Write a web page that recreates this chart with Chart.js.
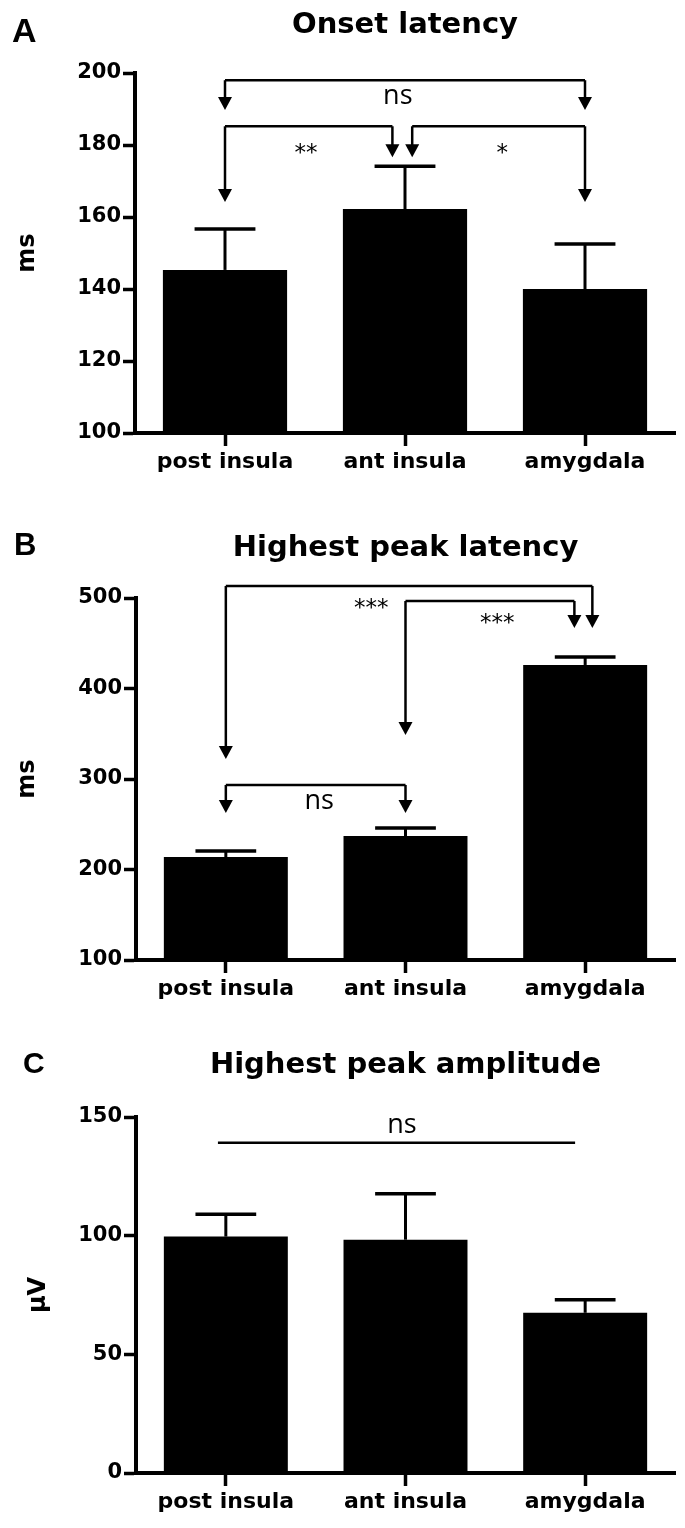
<!DOCTYPE html>
<html>
<head>
<meta charset="utf-8">
<script src="https://cdn.jsdelivr.net/npm/chart.js@4.4.0/dist/chart.umd.min.js"></script>
<style>
  html, body { margin: 0; padding: 0; background: #fff; }
  canvas { display: block; }
</style>
</head>
<body>
<canvas id="chartA" width="685" height="490"></canvas>
<canvas id="chartB" width="685" height="520"></canvas>
<canvas id="chartC" width="685" height="518"></canvas>
<script>
const categories = ['post insula', 'ant insula', 'amygdala'];

// A - onset latency (ms)
const onsetMean = [145.3, 162.2, 140.0];
const onsetSem = [11.4, 11.9, 12.5];
const onsetTicks = [100, 120, 140, 160, 180, 200];
// brackets: [from, to, line y, arrow tip at from, arrow tip at to] (null = no arrow)
const onsetBrackets = [
  [0, 2, 198, 189.7, 189.7],
  [0, 0.93, 185.2, 164.2, 176.6],
  [1.04, 2, 185.2, 176.6, 164.2]
];
const onsetMarks = [['ns', 0.96, 193.3], ['**', 0.45, 179.4], ['*', 1.54, 179.4]];

// B - highest peak latency (ms)
const peakLatMean = [213.8, 237.0, 426.0];
const peakLatSem = [6.6, 8.9, 8.8];
const peakLatTicks = [100, 200, 300, 400, 500];
const peakLatBrackets = [
  [0, 2.04, 513.3, 322.1, 466.9],
  [1, 1.94, 496.7, 348.6, 466.9],
  [0, 1, 293.4, 262.4, 262.4]
];
const peakLatMarks = [['***', 0.81, 495.6], ['***', 1.51, 479.0], ['ns', 0.52, 274.6]];

// C - highest peak amplitude (µV)
const ampMean = [99.6, 98.3, 67.5];
const ampSem = [9.4, 19.4, 5.5];
const ampTicks = [0, 50, 100, 150];
const ampBrackets = [
  [-0.044, 1.944, 139.1, null, null]
];
const ampMarks = [['ns', 0.98, 146.2]];

const FONT = "'DejaVu Sans', 'Liberation Sans', sans-serif";

function sigPlugin(cfg) {
  return {
    id: 'sig' + cfg.letter,
    afterDatasetsDraw(chart) {
      const ctx = chart.ctx;
      const xs = chart.scales.x, ys = chart.scales.y;
      const meta = chart.getDatasetMeta(0);
      ctx.save();
      ctx.strokeStyle = '#000';
      ctx.fillStyle = '#000';

      // error bars (upper only)
      meta.data.forEach((bar, i) => {
        const top = ys.getPixelForValue(cfg.mean[i] + cfg.sem[i]);
        const half = bar.width * 0.245;
        ctx.lineWidth = 3;
        ctx.beginPath(); ctx.moveTo(bar.x, bar.y); ctx.lineTo(bar.x, top); ctx.stroke();
        ctx.lineWidth = 3.5;
        ctx.beginPath(); ctx.moveTo(bar.x - half, top); ctx.lineTo(bar.x + half, top); ctx.stroke();
      });

      // brackets with arrows
      const head = 13, hw = 7;
      function arrow(px, lineY, tipVal) {
        if (tipVal === null) return;
        const tip = ys.getPixelForValue(tipVal);
        ctx.beginPath(); ctx.moveTo(px, lineY); ctx.lineTo(px, tip - head + 1); ctx.stroke();
        ctx.beginPath();
        ctx.moveTo(px - hw, tip - head); ctx.lineTo(px + hw, tip - head); ctx.lineTo(px, tip);
        ctx.closePath(); ctx.fill();
      }
      ctx.lineWidth = 2.5;
      cfg.brackets.forEach(b => {
        const x1 = xs.getPixelForValue(b[0]);
        const x2 = xs.getPixelForValue(b[1]);
        const ly = ys.getPixelForValue(b[2]);
        ctx.beginPath(); ctx.moveTo(x1, ly); ctx.lineTo(x2, ly); ctx.stroke();
        arrow(x1, ly, b[3]);
        arrow(x2, ly, b[4]);
      });

      // significance labels
      ctx.textAlign = 'center';
      ctx.textBaseline = 'alphabetic';
      cfg.marks.forEach(m => {
        const px = xs.getPixelForValue(m[1]);
        const py = ys.getPixelForValue(m[2]);
        if (m[0].indexOf('*') >= 0) {
          ctx.font = "23px 'DejaVu Sans'";
          ctx.fillText(m[0], px, py + 23 * 0.55);
        } else {
          ctx.font = "27px 'Open Sans'";
          ctx.fillText(m[0], px, py + 27 * 0.27);
        }
      });
      ctx.restore();
    },
    afterDraw(chart) {
      const ctx = chart.ctx;
      const area = chart.chartArea;
      ctx.save();
      ctx.fillStyle = '#000';
      ctx.textBaseline = 'alphabetic';
      ctx.textAlign = 'left';
      ctx.font = "bold " + cfg.letterSize + "px 'Liberation Sans'";
      ctx.fillText(cfg.letter, cfg.letterX, cfg.letterY);
      ctx.textAlign = 'center';
      ctx.font = "bold 29px " + FONT;
      ctx.fillText(cfg.title, (area.left + area.right) / 2, cfg.titleY);
      ctx.restore();
    }
  };
}

function makePanel(id, cfg) {
  return new Chart(document.getElementById(id), {
    type: 'bar',
    data: {
      labels: categories,
      datasets: [{
        data: cfg.mean,
        backgroundColor: '#000',
        borderWidth: 0,
        barPercentage: 0.69,
        categoryPercentage: 1
      }]
    },
    options: {
      responsive: false,
      animation: false,
      layout: { padding: { top: cfg.top, right: 10, bottom: 0, left: 0 } },
      plugins: {
        legend: { display: false },
        tooltip: { enabled: false }
      },
      scales: {
        x: {
          offset: true,
          grid: { display: true, drawOnChartArea: false, offset: false, tickLength: 13, tickWidth: 3.5, tickColor: '#000', color: '#000' },
          border: { display: true, color: '#000', width: 4 },
          ticks: { color: '#000', padding: 3, maxRotation: 0, font: { family: FONT, weight: 'bold', size: 22 } },
          afterFit: s => { s.height = cfg.bottomH; }
        },
        y: {
          min: cfg.ticks[0],
          max: cfg.ticks[cfg.ticks.length - 1],
          afterBuildTicks: s => { s.ticks = cfg.ticks.map(v => ({ value: v })); },
          grid: { display: true, drawOnChartArea: false, tickLength: 12, tickWidth: 3.5, tickColor: '#000', color: '#000' },
          border: { display: true, color: '#000', width: 4 },
          ticks: { color: '#000', padding: 2, font: { family: FONT, weight: 'bold', size: 21 } },
          title: {
            display: true,
            text: cfg.unit,
            color: '#000',
            font: { family: FONT, weight: 'bold', size: 24 },
            padding: { top: cfg.unitPad, bottom: 0 }
          },
          afterFit: s => { s.width = cfg.left; }
        }
      }
    },
    plugins: [sigPlugin(cfg)]
  });
}

makePanel('chartA', {
  letter: 'A', letterX: 12, letterY: 42, letterSize: 34,
  title: 'Onset latency', titleY: 33,
  unit: 'ms', unitPad: 13,
  mean: onsetMean, sem: onsetSem, ticks: onsetTicks,
  brackets: onsetBrackets, marks: onsetMarks,
  top: 73, bottomH: 57, left: 135
});

makePanel('chartB', {
  letter: 'B', letterX: 14, letterY: 65, letterSize: 31,
  title: 'Highest peak latency', titleY: 66,
  unit: 'ms', unitPad: 13,
  mean: peakLatMean, sem: peakLatSem, ticks: peakLatTicks,
  brackets: peakLatBrackets, marks: peakLatMarks,
  top: 108, bottomH: 50, left: 136
});

makePanel('chartC', {
  letter: 'C', letterX: 23, letterY: 63, letterSize: 30,
  title: 'Highest peak amplitude', titleY: 63,
  unit: 'µV', unitPad: 24,
  mean: ampMean, sem: ampSem, ticks: ampTicks,
  brackets: ampBrackets, marks: ampMarks,
  top: 107, bottomH: 55, left: 136
});
</script>
</body>
</html>
